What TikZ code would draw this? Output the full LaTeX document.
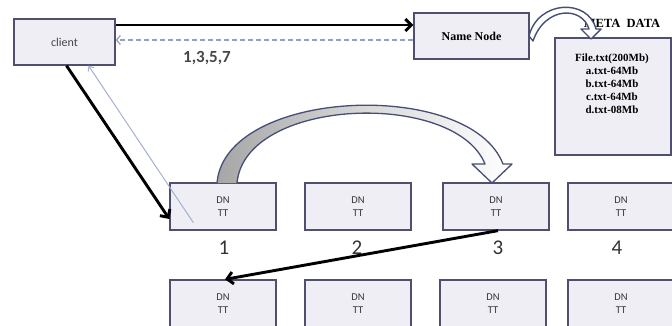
\documentclass[tikz,border=0pt]{standalone}
\usepackage{fontspec}
\setmainfont{Liberation Serif}
\newfontfamily\carl{Carlito}
\usetikzlibrary{arrows.meta,calc}
\definecolor{boxfill}{RGB}{238,238,244}
\definecolor{boxline}{RGB}{78,80,110}
\definecolor{dashcol}{RGB}{150,160,192}
\definecolor{thincol}{RGB}{165,175,212}
\definecolor{bandline}{RGB}{70,78,118}
\definecolor{txtgray}{RGB}{70,70,70}
\tikzset{
  box/.style={draw=boxline, fill=boxfill, line width=1.3pt, inner sep=0pt},
  dnbox/.style={box, minimum width=106pt, minimum height=47pt, text=txtgray!80!black,
     align=center, font=\carl\fontsize{10.5}{12.5}\selectfont},
  numlbl/.style={text=black!80, font=\carl\fontsize{21}{24}\selectfont},
  bigarrow/.style={line width=2.9pt, black, -{Straight Barb[length=6pt,width=12pt]}},
}
\begin{document}
\begin{tikzpicture}[x=1pt, y=-1pt]
\useasboundingbox (0,0) rectangle (672,325);
\clip (0,0) rectangle (672,325);

% main boxes
\node[box, minimum width=101pt, minimum height=46pt, text=txtgray,
      font=\carl\fontsize{12}{14}\selectfont] (client) at (64.5,42) {client};
\node[box, minimum width=115pt, minimum height=46pt,
      font=\bfseries\fontsize{12}{14}\selectfont] (namenode) at (471.5,36) {Name Node};
\node[box, minimum width=116pt, minimum height=117pt] (meta) at (613,96.5) {};
\node[align=center, font=\bfseries\fontsize{11}{13}\selectfont, inner sep=0pt]
   (metatext) at (612,83.5) {File.txt(200Mb)\\a.txt-64Mb\\b.txt-64Mb\\c.txt-64Mb\\d.txt-08Mb};
\node[font=\bfseries\fontsize{12.5}{14}\selectfont, inner sep=0pt] (metalbl) at (622,23) {META\ \ DATA};

% data node rows
\node[dnbox] (d1a) at (223,206.5) {DN\\TT};
\node[dnbox] (d2a) at (358,206.5) {DN\\TT};
\node[dnbox] (d3a) at (496,206.5) {DN\\TT};
\node[dnbox] (d4a) at (621,206.5) {DN\\TT};
\node[dnbox] (d1b) at (223,303.5) {DN\\TT};
\node[dnbox] (d2b) at (358,303.5) {DN\\TT};
\node[dnbox] (d3b) at (493,303.5) {DN\\TT};
\node[dnbox] (d4b) at (621,303.5) {DN\\TT};

\node[numlbl] (n1) at (224,248) {1};
\node[numlbl] (n2) at (357,248) {2};
\node[numlbl] (n3) at (498,248) {3};
\node[numlbl] (n4) at (617,248) {4};

% client <-> name node
\draw[bigarrow] (client.east |- 0,25) -- (namenode.west |- 0,25);
\draw[dashcol, line width=1.2pt, dash pattern=on 5pt off 3pt,
      -{Straight Barb[length=4pt,width=9pt]}] (namenode.west |- 0,40) -- (client.east |- 0,40);
\node[text=txtgray, font=\carl\bfseries\fontsize{17}{20}\selectfont] (seq) at (207,58) {1,3,5,7};

% client -> DN1
\draw[bigarrow] ([xshift=2pt]client.south) -- (d1a.west |- 0,219);
\draw[thincol, line width=1pt, -{Straight Barb[length=4pt,width=7pt]}]
   ([shift={(24,-8)}]d1a.south west) -- ([xshift=24pt]client.south);

% DN3 -> second row DN1
\draw[bigarrow] ([xshift=2pt]d3a.south) -- ([xshift=2pt]d1b.north);

% big curved hollow arrow DN1 -> DN3
\shade[left color=black!35, right color=white, middle color=white!85!black]
  (217,183) .. controls (225,88) and (470,78) .. (503,164)
  -- (512,164) -- (492,183) -- (472,164) -- (485,164)
  .. controls (455,90) and (245,97) .. (237,183) -- cycle;
\draw[bandline, line width=1.3pt, line join=round]
  (217,183) .. controls (225,88) and (470,78) .. (503,164)
  -- (512,164) -- (492,183) -- (472,164) -- (485,164)
  .. controls (455,90) and (245,97) .. (237,183);

% name node -> meta data curved arrow
\filldraw[fill=white, draw=bandline, line width=1.4pt, line join=round]
  (529,36) .. controls (538,0) and (588,-2) .. (596,29)
  -- (601,29) -- (591,39) -- (581,29) -- (589,29)
  .. controls (582,6) and (545,6) .. (533,41) -- cycle;
\end{tikzpicture}
\end{document}
